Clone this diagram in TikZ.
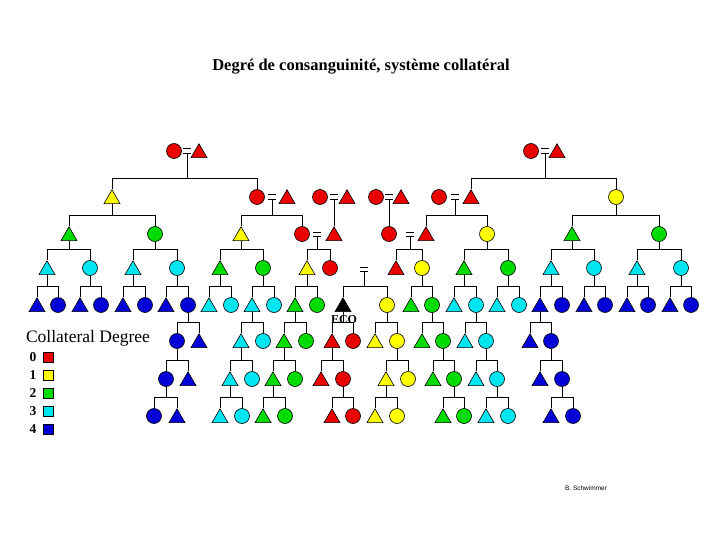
\documentclass[tikz,border=0pt]{standalone}
\usepackage{fontspec}
\setmainfont{Liberation Serif}
\newfontfamily\signfont{Liberation Sans}
\usetikzlibrary{shapes.geometric}
\definecolor{deg0}{RGB}{235,0,0}
\definecolor{deg1}{RGB}{255,255,0}
\definecolor{deg2}{RGB}{0,220,0}
\definecolor{deg3}{RGB}{0,230,240}
\definecolor{deg4}{RGB}{0,0,215}
\newcommand{\kids}[3]{\draw (#2.north) -- ++(0,-11) coordinate (bar) -| (#3.north) (#1.south) -- (#1.south |- bar);}

\begin{document}
\begin{tikzpicture}[x=1pt,y=-1pt,line width=0.9pt,
  fem/.style={circle,draw,line width=0.6pt,fill=#1,minimum size=15pt,inner sep=0pt},
  mal/.style={regular polygon,regular polygon sides=3,draw,line width=0.6pt,fill=#1,minimum size=18.5pt,inner sep=0pt,yshift=-2pt},
  wed/.style={minimum width=7pt,minimum height=3.2pt,inner sep=0pt,append after command={(\tikzlastnode.north west) edge (\tikzlastnode.north east) (\tikzlastnode.south west) edge (\tikzlastnode.south east)}},
  swatch/.style={draw,line width=0.6pt,fill=#1,minimum size=10pt,inner sep=0pt}]
\useasboundingbox (0,0) rectangle (720,540);

\node[font=\bfseries\fontsize{16.5}{18}\selectfont] (title) at (361,67) {Degré de consanguinité, système collatéral};

\node[fem=deg0] (a1) at (174,151) {};
\node[wed] (qa1) at (187,151) {};
\node[mal=deg0] (a2) at (199,151) {};
\node[fem=deg0] (a3) at (531,151) {};
\node[wed] (qa2) at (545,151) {};
\node[mal=deg0] (a4) at (557,151) {};

\node[mal=deg1] (b1) at (112,197) {};
\node[fem=deg0] (b2) at (257,197) {};
\node[wed] (qb1) at (272,197) {};
\node[mal=deg0] (b3) at (287,197) {};
\node[fem=deg0] (b4) at (320,197) {};
\node[wed] (qb2) at (334,197) {};
\node[mal=deg0] (b5) at (347,197) {};
\node[fem=deg0] (b6) at (376,197) {};
\node[wed] (qb3) at (389,197) {};
\node[mal=deg0] (b7) at (401,197) {};
\node[fem=deg0] (b8) at (439,197) {};
\node[wed] (qb4) at (455,197) {};
\node[mal=deg0] (b9) at (471,197) {};
\node[fem=deg1] (b10) at (616,197) {};

\node[mal=deg2] (c1) at (69,234) {};
\node[fem=deg2] (c2) at (155,234) {};
\node[mal=deg1] (c3) at (241,234) {};
\node[fem=deg0] (c4) at (302,234) {};
\node[wed] (qc1) at (317,234) {};
\node[mal=deg0] (c5) at (334,234) {};
\node[fem=deg0] (c6) at (389,234) {};
\node[wed] (qc2) at (410,234) {};
\node[mal=deg0] (c7) at (426,234) {};
\node[fem=deg1] (c8) at (487,234) {};
\node[mal=deg2] (c9) at (572,234) {};
\node[fem=deg2] (c10) at (659,234) {};

\node[mal=deg3] (d1) at (47,268) {};
\node[fem=deg3] (d2) at (90,268) {};
\node[mal=deg3] (d3) at (133,268) {};
\node[fem=deg3] (d4) at (177,268) {};
\node[mal=deg2] (d5) at (220,268) {};
\node[fem=deg2] (d6) at (263,268) {};
\node[mal=deg1] (d7) at (307,268) {};
\node[fem=deg0] (d8) at (330,268) {};
\node[wed] (qd1) at (364,269) {};
\node[mal=deg0] (d9) at (396,268) {};
\node[fem=deg1] (d10) at (422,268) {};
\node[mal=deg2] (d11) at (464,268) {};
\node[fem=deg2] (d12) at (508,268) {};
\node[mal=deg3] (d13) at (551,268) {};
\node[fem=deg3] (d14) at (594,268) {};
\node[mal=deg3] (d15) at (637,268) {};
\node[fem=deg3] (d16) at (681,268) {};

\node[mal=deg4] (e1) at (37,305) {};
\node[fem=deg4] (e2) at (58,305) {};
\node[mal=deg4] (e3) at (80,305) {};
\node[fem=deg4] (e4) at (101,305) {};
\node[mal=deg4] (e5) at (123,305) {};
\node[fem=deg4] (e6) at (145,305) {};
\node[mal=deg4] (e7) at (166,305) {};
\node[fem=deg4] (e8) at (188,305) {};
\node[mal=deg3] (e9) at (209,305) {};
\node[fem=deg3] (e10) at (231,305) {};
\node[mal=deg3] (e11) at (252,305) {};
\node[fem=deg3] (e12) at (274,305) {};
\node[mal=deg2] (e13) at (295,305) {};
\node[fem=deg2] (e14) at (317,305) {};
\node[mal=black] (e15) at (343,305) {};
\node[fem=deg1] (e16) at (387,305) {};
\node[mal=deg2] (e17) at (411,305) {};
\node[fem=deg2] (e18) at (432,305) {};
\node[mal=deg3] (e19) at (454,305) {};
\node[fem=deg3] (e20) at (476,305) {};
\node[mal=deg3] (e21) at (497,305) {};
\node[fem=deg3] (e22) at (519,305) {};
\node[mal=deg4] (e23) at (540,305) {};
\node[fem=deg4] (e24) at (562,305) {};
\node[mal=deg4] (e25) at (584,305) {};
\node[fem=deg4] (e26) at (605,305) {};
\node[mal=deg4] (e27) at (627,305) {};
\node[fem=deg4] (e28) at (648,305) {};
\node[mal=deg4] (e29) at (670,305) {};
\node[fem=deg4] (e30) at (691,305) {};

\node[fem=deg4] (f1) at (177,341) {};
\node[mal=deg4] (f2) at (199,341) {};
\node[mal=deg3] (f3) at (241,341) {};
\node[fem=deg3] (f4) at (263,341) {};
\node[mal=deg2] (f5) at (284,341) {};
\node[fem=deg2] (f6) at (306,341) {};
\node[mal=deg0] (f7) at (332,341) {};
\node[fem=deg0] (f8) at (353,341) {};
\node[mal=deg1] (f9) at (375,341) {};
\node[fem=deg1] (f10) at (397,341) {};
\node[mal=deg2] (f11) at (422,341) {};
\node[fem=deg2] (f12) at (443,341) {};
\node[mal=deg3] (f13) at (465,341) {};
\node[fem=deg3] (f14) at (486,341) {};
\node[mal=deg4] (f15) at (530,341) {};
\node[fem=deg4] (f16) at (551,341) {};

\node[fem=deg4] (g1) at (166,379) {};
\node[mal=deg4] (g2) at (188,379) {};
\node[mal=deg3] (g3) at (230,379) {};
\node[fem=deg3] (g4) at (252,379) {};
\node[mal=deg2] (g5) at (273,379) {};
\node[fem=deg2] (g6) at (295,379) {};
\node[mal=deg0] (g7) at (321,379) {};
\node[fem=deg0] (g8) at (343,379) {};
\node[mal=deg1] (g9) at (386,379) {};
\node[fem=deg1] (g10) at (408,379) {};
\node[mal=deg2] (g11) at (433,379) {};
\node[fem=deg2] (g12) at (454,379) {};
\node[mal=deg3] (g13) at (476,379) {};
\node[fem=deg3] (g14) at (497,379) {};
\node[mal=deg4] (g15) at (540,379) {};
\node[fem=deg4] (g16) at (562,379) {};

\node[fem=deg4] (h1) at (154,416) {};
\node[mal=deg4] (h2) at (177,416) {};
\node[mal=deg3] (h3) at (220,416) {};
\node[fem=deg3] (h4) at (242,416) {};
\node[mal=deg2] (h5) at (263,416) {};
\node[fem=deg2] (h6) at (285,416) {};
\node[mal=deg0] (h7) at (332,416) {};
\node[fem=deg0] (h8) at (353,416) {};
\node[mal=deg1] (h9) at (375,416) {};
\node[fem=deg1] (h10) at (397,416) {};
\node[mal=deg2] (h11) at (443,416) {};
\node[fem=deg2] (h12) at (464,416) {};
\node[mal=deg3] (h13) at (486,416) {};
\node[fem=deg3] (h14) at (508,416) {};
\node[mal=deg4] (h15) at (551,416) {};
\node[fem=deg4] (h16) at (573,416) {};

\kids{qa1}{b1}{b2}
\kids{qa2}{b9}{b10}
\kids{b1}{c1}{c2}
\kids{qb1}{c3}{c4}
\draw (qb2.south) -- (qb2.south |- c5.north);
\draw (qb3.south) -- (qb3.south |- c6.north);
\kids{qb4}{c7}{c8}
\kids{b10}{c9}{c10}

\kids{c1}{d1}{d2}
\kids{c2}{d3}{d4}
\kids{c3}{d5}{d6}
\kids{qc1}{d7}{d8}
\kids{qc2}{d9}{d10}
\kids{c8}{d11}{d12}
\kids{c9}{d13}{d14}
\kids{c10}{d15}{d16}

\kids{d1}{e1}{e2}
\kids{d2}{e3}{e4}
\kids{d3}{e5}{e6}
\kids{d4}{e7}{e8}
\kids{d5}{e9}{e10}
\kids{d6}{e11}{e12}
\kids{d7}{e13}{e14}
\kids{qd1}{e15}{e16}
\kids{d10}{e17}{e18}
\kids{d11}{e19}{e20}
\kids{d12}{e21}{e22}
\kids{d13}{e23}{e24}
\kids{d14}{e25}{e26}
\kids{d15}{e27}{e28}
\kids{d16}{e29}{e30}

\kids{e8}{f1}{f2}
\kids{e11}{f3}{f4}
\kids{e13}{f5}{f6}
\kids{e15}{f7}{f8}
\kids{e16}{f9}{f10}
\kids{e18}{f11}{f12}
\kids{e20}{f13}{f14}
\kids{e23}{f15}{f16}

\kids{f1}{g1}{g2}
\kids{f3}{g3}{g4}
\kids{f5}{g5}{g6}
\kids{f7}{g7}{g8}
\kids{f10}{g9}{g10}
\kids{f12}{g11}{g12}
\kids{f14}{g13}{g14}
\kids{f16}{g15}{g16}

\kids{g1}{h1}{h2}
\kids{g3}{h3}{h4}
\kids{g5}{h5}{h6}
\kids{g8}{h7}{h8}
\kids{g9}{h9}{h10}
\kids{g12}{h11}{h12}
\kids{g14}{h13}{h14}
\kids{g16}{h15}{h16}

\node[font=\bfseries\fontsize{12}{13}\selectfont] (ego) at (344,320) {ECO};

\node[font=\fontsize{17.5}{19}\selectfont] (legend) at (88,338) {Collateral Degree};
\node[font=\bfseries\fontsize{13.5}{15}\selectfont] (n0) at (33,357) {0};
\node[font=\bfseries\fontsize{13.5}{15}\selectfont] (n1) at (33,375) {1};
\node[font=\bfseries\fontsize{13.5}{15}\selectfont] (n2) at (33,393) {2};
\node[font=\bfseries\fontsize{13.5}{15}\selectfont] (n3) at (33,411) {3};
\node[font=\bfseries\fontsize{13.5}{15}\selectfont] (n4) at (33,429) {4};
\node[swatch=deg0] (k0) at (48,357) {};
\node[swatch=deg1] (k1) at (48,375) {};
\node[swatch=deg2] (k2) at (48,393) {};
\node[swatch=deg3] (k3) at (48,411) {};
\node[swatch=deg4] (k4) at (48,429) {};

\node[font=\signfont\fontsize{6.5}{7.5}\selectfont] (sign) at (586,488) {B. Schwimmer};
\end{tikzpicture}
\end{document}
